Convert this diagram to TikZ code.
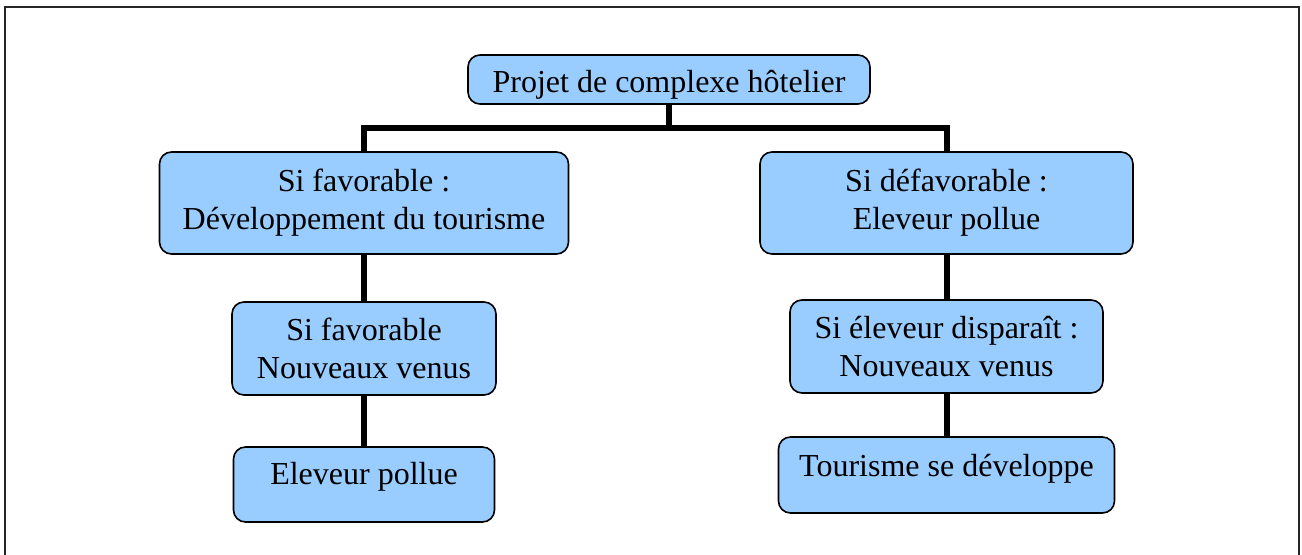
\documentclass[tikz,border=0pt]{standalone}
\usepackage{fontspec}
\setmainfont{Liberation Serif}
\definecolor{boxblue}{RGB}{153,204,255}
\begin{document}
\begin{tikzpicture}[
        x=0.5pt, y=-0.5pt,
        boxnode/.style={rectangle, rounded corners=6pt, draw=black, thick, fill=boxblue, inner xsep=0pt, align=center, font=\fontsize{16}{19}\selectfont},
        link/.style={line width=3pt},
    ]
        \useasboundingbox (0,0) rectangle (1302,555);
        % frame
        \draw[line width=1.2pt, black!85] (5,555) -- (5,7) -- (1299,7) -- (1299,555);

        %Nodes
        \node[boxnode, minimum width=201pt, inner ysep=0pt, text height=19pt, text depth=5.5pt] (projet) at (669,79.5) {Projet de complexe hôtelier};
        \node[boxnode, minimum width=204.5pt, minimum height=51pt] (fav) at (364,203) {Si favorable :\\Développement du tourisme};
        \node[boxnode, minimum width=186.5pt, minimum height=51pt] (defav) at (946.5,203) {Si défavorable :\\Eleveur pollue};

        \node[boxnode, minimum width=132pt, minimum height=46.5pt] (favnv) at (364,348.5) {Si favorable\\Nouveaux venus};
        \node[boxnode, minimum width=156.5pt, minimum height=46.5pt] (defavnv) at (946.5,346.5) {Si éleveur disparaît :\\Nouveaux venus};

        \node[boxnode, minimum width=130.5pt, inner ysep=0pt, text height=19pt, text depth=18.5pt] (pollue) at (364,484.5) {Eleveur pollue};
        \node[boxnode, minimum width=168pt, inner ysep=0pt, text height=20pt, text depth=18pt] (tourisme) at (946.5,475) {Tourisme se développe};

        \coordinate (split) at (669,128);

        %Lines
        \draw[link] (projet) -- (split);
        \draw[link] (fav.north) |- (split) -| (defav.north);
        \draw[link] (fav) -- (favnv);
        \draw[link] (favnv) -- (pollue);
        \draw[link] (defav) -- (defavnv);
        \draw[link] (defavnv) -- (tourisme);
    \end{tikzpicture}
\end{document}
